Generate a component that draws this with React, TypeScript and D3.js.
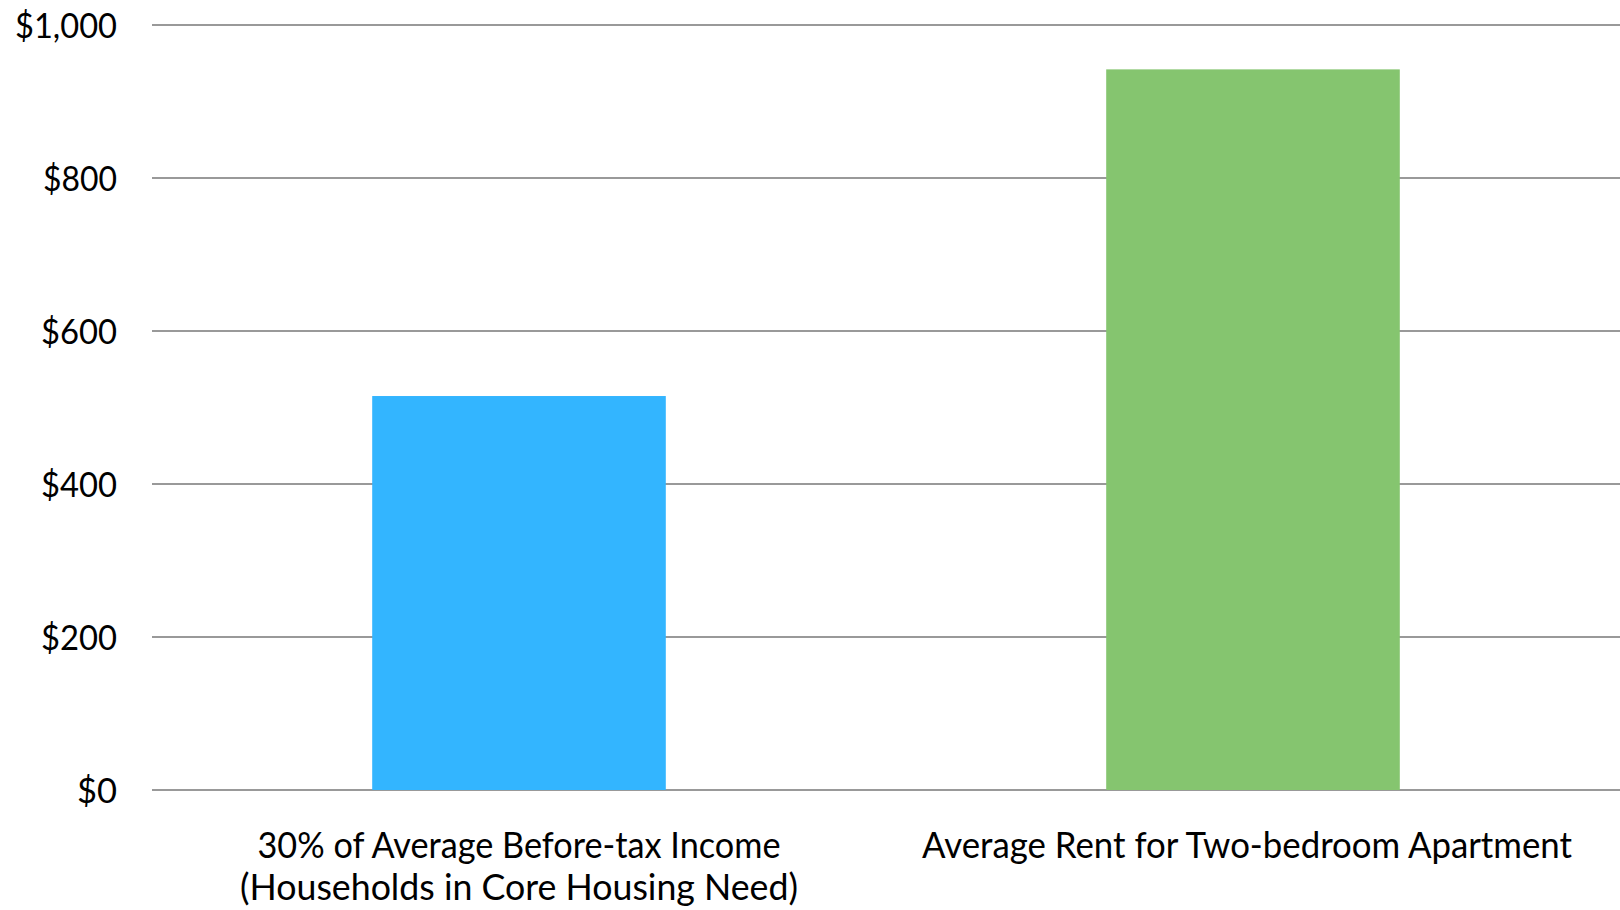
import React from "react";
import * as d3 from "d3";

const categories: string[][] = [
  ["30% of Average Before-tax Income", "(Households in Core Housing Need)"],
  ["Average Rent for Two-bedroom Apartment"],
];
const values: number[] = [515, 942];
const colors: string[] = ["#33B5FF", "#85C56F"];
const yTicks: number[] = [0, 200, 400, 600, 800, 1000];
const labelWidths: number[][] = [[523, 558], [650]];
const labelShift: number[] = [0, -6];

const W = 1620;
const H = 910;
const margin = { left: 152, right: 0, top: 25, bottom: 120 };

export default function App() {
  const x = d3
    .scaleBand<number>()
    .domain(values.map((_, i) => i))
    .range([margin.left, W - margin.right])
    .paddingInner(0.6)
    .paddingOuter(0.3);
  const y = d3.scaleLinear().domain([0, 1000]).range([790, margin.top]);
  const fmt = (v: number) => "$" + d3.format(",")(v);
  const font = "'Lato', 'Open Sans', sans-serif";
  const tickWidths: Record<number, number> = { 0: 40, 200: 76, 400: 76, 600: 76, 800: 74, 1000: 102 };

  return (
    <div style={{ position: "fixed", left: 0, top: 0 }}>
      <svg width={W} height={H} style={{ display: "block", background: "#fff" }}>
        {yTicks.map((t) => (
          <g key={t}>
            <line x1={margin.left} x2={W} y1={y(t)} y2={y(t)} stroke="#999" strokeWidth={2} />
            <text
              x={117}
              y={y(t)}
              dy="0.36em"
              textAnchor="end"
              fontFamily={font}
              fontSize={35}
              fill="#000"
              textLength={tickWidths[t]}
              lengthAdjust="spacingAndGlyphs"
            >
              {fmt(t)}
            </text>
          </g>
        ))}
        {values.map((v, i) => (
          <rect
            key={i}
            x={x(i)}
            width={x.bandwidth()}
            y={y(v)}
            height={y(0) - y(v)}
            fill={colors[i]}
          />
        ))}
        {categories.map((lines, i) => (
          <g key={i}>
            {lines.map((ln, j) => (
              <text
                key={j}
                x={(x(i) as number) + x.bandwidth() / 2 + labelShift[i]}
                y={858 + j * 42}
                textAnchor="middle"
                fontFamily={font}
                fontSize={36}
                fill="#000"
                textLength={labelWidths[i][j]}
                lengthAdjust="spacingAndGlyphs"
              >
                {ln}
              </text>
            ))}
          </g>
        ))}
      </svg>
    </div>
  );
}
